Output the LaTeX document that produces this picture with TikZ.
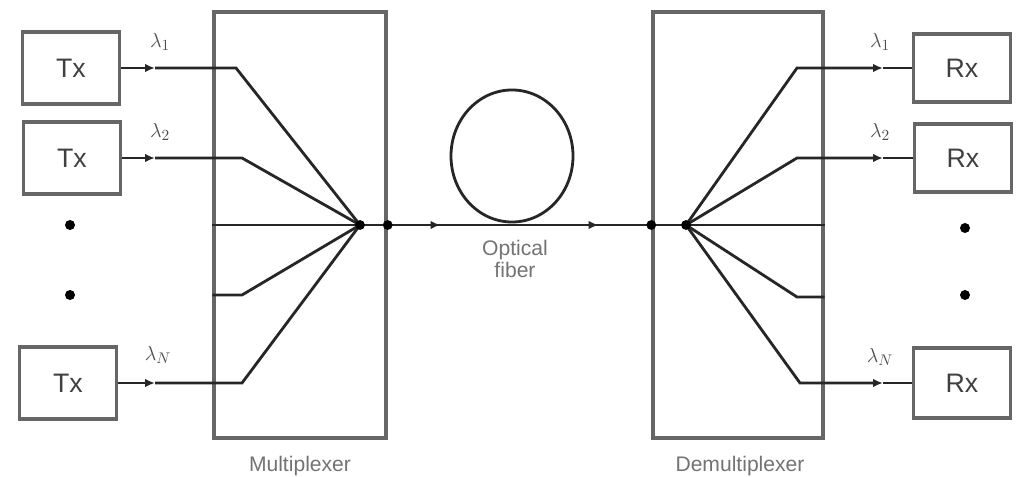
\documentclass[tikz,border=0pt]{standalone}
\usepackage{fontspec}
\setmainfont{Liberation Sans}
\usetikzlibrary{arrows.meta,decorations.markings}

\tikzset{
  unitbox/.style={draw=black!60, line width=2.2pt, minimum width=2.425cm,
    minimum height=1.8cm, font=\fontsize{19}{21}\selectfont, text=black!75},
  muxbox/.style={draw=black!60, line width=2.4pt, minimum width=4.3cm,
    minimum height=10.65cm},
  fiber/.style={line width=2pt, black!85},
  tip/.style={-{Latex[length=7pt,width=6pt]}},
  dot/.style={circle, fill=black, inner sep=0pt, minimum size=7pt},
  bigdot/.style={circle, fill=black, inner sep=0pt, minimum size=0.25cm},
  lam/.style={font=\fontsize{15}{17}\selectfont, text=black!70},
  caption/.style={font=\fontsize{15}{16}\selectfont, text=black!55, align=center},
}

\begin{document}
\begin{tikzpicture}[x=0.025cm,y=-0.025cm]
  \useasboundingbox (0,0) rectangle (1019,477);
  % transmitters and receivers
  \node[unitbox] (tx1) at (71,68) {Tx};
  \node[unitbox] (tx2) at (72,158) {Tx};
  \node[unitbox] (txn) at (68,383) {Tx};
  \node[unitbox, minimum height=1.7cm] (rx1) at (962,68) {Rx};
  \node[unitbox, minimum height=1.7cm] (rx2) at (963,158) {Rx};
  \node[unitbox, minimum height=1.75cm] (rxn) at (962,383) {Rx};
  % multiplexer and demultiplexer
  \node[muxbox] (mux) at (300,225) {};
  \node[muxbox, minimum width=4.25cm] (demux) at (738,225) {};
  \node[caption] (muxlabel) at (300,466) {Multiplexer};
  \node[caption] (demuxlabel) at (740,466) {Demultiplexer};
  \coordinate (f1) at (360,225);
  \coordinate (f2) at (686,225);
  % channels into the multiplexer
  \foreach \i/\y/\cx in {1/68/236, 2/158/242, n/383/242}
    {\coordinate (a\i) at (155,\y); \coordinate (c\i) at (\cx,\y);
     \draw[fiber, tip] (tx\i.east) -- (a\i);
     \draw[fiber] (a\i) -- (c\i) -- (f1);}
  \coordinate (c4) at (242,295);
  \draw[fiber] (mux.west) -- (f1);
  \draw[fiber] (mux.west |- c4) -- (c4) -- (f1);
  % channels out of the demultiplexer
  \foreach \i/\y/\cx in {1/68/797, 2/158/797, n/383/800}
    {\coordinate (d\i) at (\cx,\y); \coordinate (e\i) at (883,\y);
     \draw[fiber, tip] (f2) -- (d\i) -- (e\i);
     \draw[fiber] (e\i) -- (rx\i.west);}
  \coordinate (d4) at (797,297);
  \draw[fiber] (f2) -- (demux.east);
  \draw[fiber] (f2) -- (d4) -- (demux.east |- d4);
  % optical fiber
  \draw[fiber] (f1) -- (mux.east);
  \draw[fiber, postaction=decorate, decoration={markings,
      mark=at position 0.2 with {\arrow{Latex[length=7pt,width=6pt]}},
      mark=at position 0.8 with {\arrow{Latex[length=7pt,width=6pt]}}}]
    (mux.east) -- (demux.west);
  \draw[fiber] (demux.west) -- (f2);
  \draw[fiber] (512,156) ellipse [x radius=1.525cm, y radius=1.65cm];
  \node[caption] (fiberlabel) at (515,259) {Optical\\fiber};
  % junctions
  \node[dot] (j1) at (f1) {};
  \node[dot] (j2) at (mux.east) {};
  \node[dot] (j3) at (demux.west) {};
  \node[dot] (j4) at (f2) {};
  % wavelengths
  \node[lam] (l1) at (160,42) {$\lambda_1$};
  \node[lam] (l2) at (160,132) {$\lambda_2$};
  \node[lam] (ln) at (158,355) {$\lambda_N$};
  \node[lam] (m1) at (880,42) {$\lambda_1$};
  \node[lam] (m2) at (880,132) {$\lambda_2$};
  \node[lam] (mn) at (880,357) {$\lambda_N$};
  % ellipsis dots
  \foreach \x/\y [count=\k] in {70/225, 70/295, 965/228, 965/295}
    {\node[bigdot] (v\k) at (\x,\y) {};}
\end{tikzpicture}
\end{document}
